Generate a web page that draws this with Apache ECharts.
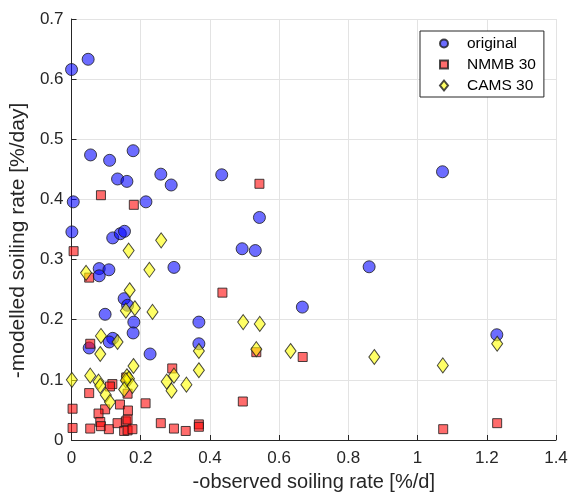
<!DOCTYPE html>
<html>
<head>
<meta charset="utf-8">
<script src="https://cdn.jsdelivr.net/npm/echarts@6/dist/echarts.min.js"></script>
<style>
  html, body { margin: 0; padding: 0; background: #fff; }
  #chart { width: 574px; height: 497px; }
</style>
</head>
<body>
<div id="chart"></div>
<script>
// Observed vs. modelled soiling rates (x: observed, y: modelled), both in %/day
const original = [
  [0.000, 0.616], [0.048, 0.633], [0.055, 0.474], [0.110, 0.465], [0.178, 0.481],
  [0.133, 0.434], [0.160, 0.430], [0.258, 0.442], [0.288, 0.424], [0.434, 0.441],
  [1.072, 0.446], [0.005, 0.396], [0.215, 0.396], [0.543, 0.370], [0.001, 0.346],
  [0.119, 0.336], [0.141, 0.343], [0.153, 0.347], [0.493, 0.318], [0.531, 0.315],
  [0.296, 0.287], [0.860, 0.288], [0.080, 0.285], [0.108, 0.283], [0.080, 0.273],
  [0.152, 0.235], [0.162, 0.224], [0.667, 0.221], [0.097, 0.209], [0.180, 0.196],
  [0.368, 0.196], [0.178, 0.178], [0.119, 0.169], [0.109, 0.163], [0.051, 0.153],
  [0.368, 0.160], [0.227, 0.143], [1.229, 0.175]
];
const nmmb30 = [
  [0.085, 0.407], [0.180, 0.391], [0.543, 0.426], [0.006, 0.314], [0.051, 0.270],
  [0.436, 0.245], [0.054, 0.160], [0.534, 0.146], [0.668, 0.138], [0.291, 0.119],
  [0.118, 0.093], [0.111, 0.089], [0.158, 0.104], [0.051, 0.078], [0.162, 0.077],
  [0.495, 0.064], [0.214, 0.061], [0.140, 0.059], [0.003, 0.052], [0.163, 0.049],
  [0.097, 0.051], [0.078, 0.044], [0.083, 0.030], [0.085, 0.023], [0.003, 0.020],
  [0.054, 0.019], [0.108, 0.018], [0.133, 0.028], [0.157, 0.031], [0.162, 0.034],
  [0.152, 0.015], [0.162, 0.016], [0.176, 0.018], [0.258, 0.028], [0.296, 0.019],
  [0.330, 0.015], [0.368, 0.026], [0.368, 0.022], [1.074, 0.018], [1.230, 0.028]
];
const cams30 = [
  [0.259, 0.332], [0.165, 0.315], [0.042, 0.278], [0.225, 0.283], [0.168, 0.249],
  [0.157, 0.215], [0.183, 0.219], [0.234, 0.213], [0.496, 0.196], [0.544, 0.193],
  [0.085, 0.173], [0.133, 0.163], [0.083, 0.143], [0.534, 0.151], [0.633, 0.148],
  [0.368, 0.148], [0.875, 0.138], [1.073, 0.124], [1.230, 0.160], [0.179, 0.123],
  [0.368, 0.116], [0.001, 0.100], [0.054, 0.107], [0.078, 0.097], [0.083, 0.090],
  [0.099, 0.075], [0.111, 0.063], [0.160, 0.106], [0.166, 0.102], [0.157, 0.099],
  [0.176, 0.090], [0.152, 0.084], [0.275, 0.097], [0.296, 0.107], [0.289, 0.082],
  [0.332, 0.092]
];
const seriesNames = ['original', 'NMMB 30', 'CAMS 30'];
const xTitle = '-observed soiling rate [%/d]';
const yTitle = '-modelled soiling rate [%/day]';

const FONT = '"Liberation Sans", Arial, sans-serif';
const INK = '#262626';

const chart = echarts.init(document.getElementById('chart'), null, { renderer: 'canvas' });

const axisCommon = {
  axisLine: { show: true, onZero: false, lineStyle: { color: INK, width: 1 } },
  axisTick: { show: true, inside: true, length: 5, lineStyle: { color: INK } },
  axisLabel: { color: INK, fontFamily: FONT, fontSize: 17 },
  splitLine: { show: true, lineStyle: { color: '#e3e3e3', width: 1 } },
  nameLocation: 'middle'
};
const oneDecimal = v => String(Math.round(v * 10) / 10);

chart.setOption({
  animation: false,
  backgroundColor: '#fff',
  grid: { left: 70, top: 19, right: 18, bottom: 53, containLabel: false },
  xAxis: Object.assign({}, axisCommon, {
    type: 'value', min: 0, max: 1.4, interval: 0.2,
    name: xTitle, nameGap: 32,
    nameTextStyle: { color: INK, fontFamily: FONT, fontSize: 20 },
    axisLabel: Object.assign({}, axisCommon.axisLabel, { margin: 10, formatter: oneDecimal })
  }),
  yAxis: Object.assign({}, axisCommon, {
    type: 'value', min: 0, max: 0.7, interval: 0.1,
    name: yTitle, nameGap: 39,
    // extra trailing padding nudges the rotated title a little lower
    nameTextStyle: { color: INK, fontFamily: FONT, fontSize: 21, padding: [0, 22, 0, 0] },
    axisLabel: Object.assign({}, axisCommon.axisLabel, { margin: 8, formatter: oneDecimal })
  }),
  legend: {
    orient: 'vertical', left: 420, top: 31,
    backgroundColor: '#fff', borderColor: INK, borderWidth: 1, borderRadius: 0,
    padding: [4.5, 8, 3.5, 19],
    itemWidth: 8, itemHeight: 10, itemGap: 5,
    symbolKeepAspect: true,
    textStyle: { color: '#000', fontFamily: FONT, fontSize: 15.5, lineHeight: 15, padding: [0, 0, 0, 14] },
    data: [
      { name: seriesNames[0], icon: 'circle' },
      { name: seriesNames[1], icon: 'path://M0,0L1,0L1,1L0,1Z' },
      { name: seriesNames[2], icon: 'diamond' }
    ]
  },
  series: [
    {
      name: seriesNames[0], type: 'scatter', data: original,
      symbol: 'circle', symbolSize: 12,
      itemStyle: { color: 'rgba(0,0,255,0.72)', borderColor: '#1a1a1a', borderWidth: 1 }
    },
    {
      name: seriesNames[1], type: 'scatter', data: nmmb30,
      symbol: 'rect', symbolSize: 9,
      itemStyle: { color: 'rgba(255,0,0,0.72)', borderColor: '#1a1a1a', borderWidth: 1 }
    },
    {
      name: seriesNames[2], type: 'scatter', data: cams30,
      symbol: 'diamond', symbolSize: [11, 15],
      itemStyle: { color: 'rgba(255,255,0,0.75)', borderColor: '#1a1a1a', borderWidth: 1 }
    }
  ]
});
</script>
</body>
</html>
